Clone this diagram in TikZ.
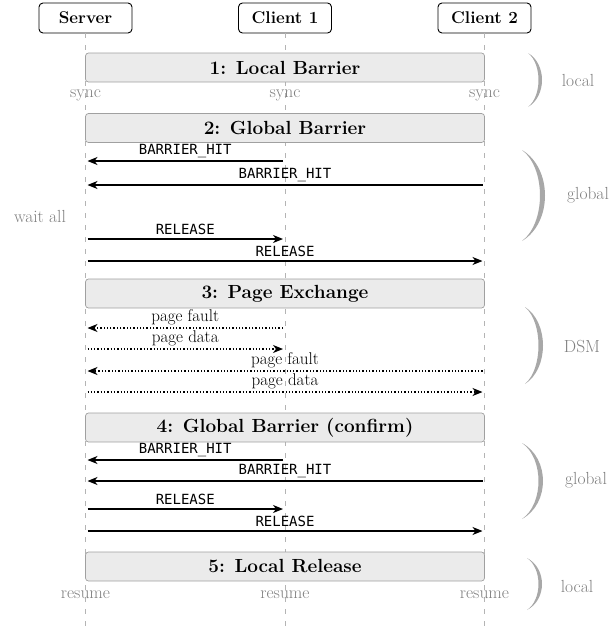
\documentclass[tikz,border=0pt]{standalone}
\usepackage{fontspec}
\setmonofont{DejaVu Sans Mono}
\usetikzlibrary{arrows.meta,calc}
\definecolor{lifegray}{HTML}{B4B4B4}
\definecolor{boxfill}{HTML}{EBEBEB}
\definecolor{boxdraw}{HTML}{A0A0A0}
\definecolor{txtgray}{HTML}{808080}
\definecolor{brkgray}{HTML}{A8A8A8}
\newcommand{\myBrk}[5]{\fill[brk] (#1,#2) .. controls ({#1+#4*4/3},{#2+0.2*(#3-#2)}) and ({#1+#4*4/3},{#3-0.2*(#3-#2)}) .. (#1,#3) .. controls ({#1+(#4-#5)*4/3},{#3-0.2*(#3-#2)}) and ({#1+(#4-#5)*4/3},{#2+0.2*(#3-#2)}) .. cycle;}
\begin{document}
\begin{tikzpicture}[x=1pt,y=-1pt,
  hdr/.style={draw=black,fill=white,rounded corners=4pt,line width=0.9pt,minimum width=93pt,minimum height=30pt,inner sep=0pt,font=\fontsize{17}{20}\selectfont\bfseries},
  phase/.style={draw=boxdraw,fill=boxfill,rounded corners=3pt,line width=0.7pt,minimum width=399pt,minimum height=29pt,inner sep=0pt,font=\fontsize{19}{22}\selectfont\bfseries},
  life/.style={draw=lifegray,line width=0.7pt,dash pattern=on 5pt off 7pt},
  note/.style={text=txtgray,font=\fontsize{17.5}{20}\selectfont,inner sep=0pt},
  msg/.style={line width=1.3pt,-{Stealth[length=10pt,width=8pt,inset=3pt]},shorten >=2pt,shorten <=2pt},
  dmsg/.style={msg,dotted,line width=1.2pt},
  mlab/.style={font=\ttfamily\fontsize{14}{16}\selectfont,inner sep=0pt,midway,yshift=10pt},
  dlab/.style={font=\fontsize{17}{19}\selectfont,inner sep=0pt,midway,yshift=11pt},
  brk/.style={fill=brkgray}]
\useasboundingbox (0,0) rectangle (613,627);
% headers
\node[hdr] (srv) at (85.5,18) {Server};
\node[hdr] (c1) at (285,18) {Client 1};
\node[hdr] (c2) at (484.5,18) {Client 2};
\coordinate (bot) at (0,627);
\draw[life] (srv.south) -- (srv |- bot);
\draw[life] (c1.south) -- (c1 |- bot);
\draw[life] (c2.south) -- (c2 |- bot);
% phase 1
\node[phase] (p1) at (285,67.5) {1: Local Barrier};
\coordinate (ys) at (0,95);
\node[note] (sy1) at (srv |- ys) {sync};
\node[note] (sy2) at (c1 |- ys) {sync};
\node[note] (sy3) at (c2 |- ys) {sync};
% phase 2
\node[phase] (p2) at (285,128) {2: Global Barrier};
\coordinate (r1) at (0,161);
\coordinate (r2) at (0,185);
\coordinate (r3) at (0,239);
\coordinate (r4) at (0,261);
\draw[msg] (c1 |- r1) -- (srv |- r1) node[mlab] {BARRIER\_HIT};
\draw[msg] (c2 |- r2) -- (srv |- r2) node[mlab] {BARRIER\_HIT};
\draw[msg] (srv |- r3) -- (c1 |- r3) node[mlab] {RELEASE};
\draw[msg] (srv |- r4) -- (c2 |- r4) node[mlab] {RELEASE};
\node[note] (wait) at (40,216) {wait all};
% phase 3
\node[phase] (p3) at (285,293.5) {3: Page Exchange};
\coordinate (r5) at (0,328);
\coordinate (r6) at (0,349);
\coordinate (r7) at (0,371);
\coordinate (r8) at (0,392);
\draw[dmsg] (c1 |- r5) -- (srv |- r5) node[dlab] {page fault};
\draw[dmsg] (srv |- r6) -- (c1 |- r6) node[dlab] {page data};
\draw[dmsg] (c2 |- r7) -- (srv |- r7) node[dlab] {page fault};
\draw[dmsg] (srv |- r8) -- (c2 |- r8) node[dlab] {page data};
% phase 4
\node[phase] (p4) at (285,427.5) {4: Global Barrier (confirm)};
\coordinate (r9) at (0,460);
\coordinate (r10) at (0,481);
\coordinate (r11) at (0,509);
\coordinate (r12) at (0,531);
\draw[msg] (c1 |- r9) -- (srv |- r9) node[mlab] {BARRIER\_HIT};
\draw[msg] (c2 |- r10) -- (srv |- r10) node[mlab] {BARRIER\_HIT};
\draw[msg] (srv |- r11) -- (c1 |- r11) node[mlab] {RELEASE};
\draw[msg] (srv |- r12) -- (c2 |- r12) node[mlab] {RELEASE};
% phase 5
\node[phase] (p5) at (285,566.5) {5: Local Release};
\coordinate (yr) at (0,595);
\node[note] (rs1) at (srv |- yr) {resume};
\node[note] (rs2) at (c1 |- yr) {resume};
\node[note] (rs3) at (c2 |- yr) {resume};
% brackets
\myBrk{528}{53}{107}{14}{3.5}
\myBrk{522}{150}{241}{23}{5}
\myBrk{525}{307}{384}{18}{4.5}
\myBrk{522}{443}{519}{21}{4.5}
\myBrk{527}{558}{610}{15}{3.5}
\node[note] (lb1) at (578,80) {local};
\node[note] (lb2) at (588,195) {global};
\node[note] (lb3) at (582,347) {DSM};
\node[note] (lb4) at (586,480) {global};
\node[note] (lb5) at (577,586) {local};
\end{tikzpicture}
\end{document}
